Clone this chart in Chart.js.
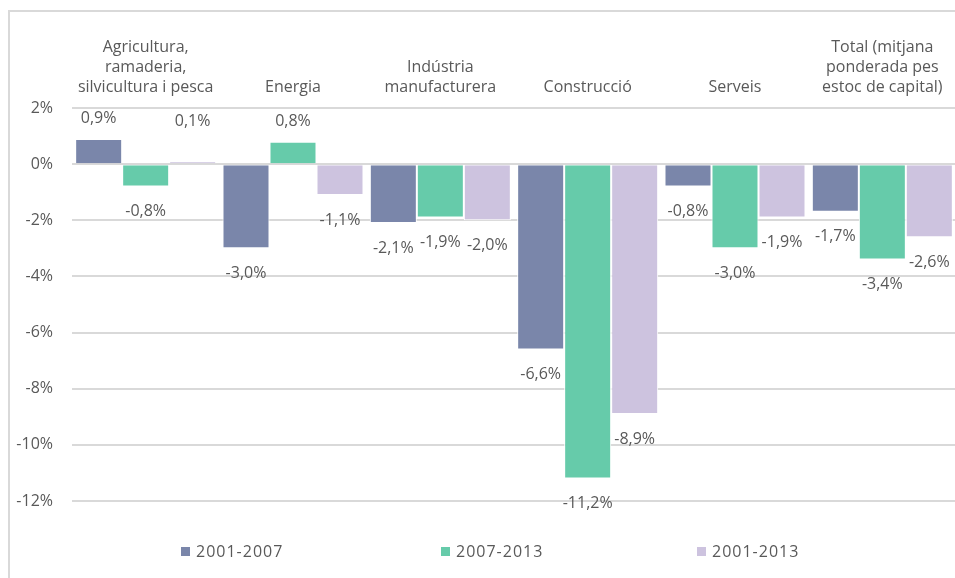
<!DOCTYPE html>
<html>
<head>
<meta charset="utf-8">
<script src="https://cdn.jsdelivr.net/npm/chart.js@4.4.1/dist/chart.umd.min.js"></script>
<style>
  html, body { margin: 0; padding: 0; background: #fff; overflow: hidden; width: 955px; height: 578px; }
  #wrap { position: relative; width: 955px; height: 578px; overflow: hidden; }
  #frame { position: absolute; left: 8px; top: 10px; width: 1000px; height: 600px;
           border-left: 2px solid #d9d9d9; border-top: 2px solid #d9d9d9; }
  #box { position: absolute; left: 0; top: 0; width: 956px; height: 578px; }
  .leg { position: absolute; top: 540px; font: 16px 'Open Sans'; letter-spacing: 1px; color: #595959; white-space: nowrap; line-height: 22px; }
  .leg i { display: inline-block; width: 9px; height: 9px; margin-right: 6px; vertical-align: 1px; }
</style>
</head>
<body>
<div id="wrap">
  <div id="frame"></div>
  <div id="box"><canvas id="chart" width="956" height="578"></canvas></div>
  <div id="legend"></div>
</div>
<script>
const categories = [
  ["Agricultura,", "ramaderia,", "silvicultura i pesca"],
  "Energia",
  ["Indústria", "manufacturera"],
  "Construcció",
  "Serveis",
  ["Total (mitjana", "ponderada pes", "estoc de capital)"]
];
const seriesNames = ["2001-2007", "2007-2013", "2001-2013"];
const values2001_2007 = [0.9, -3.0, -2.1, -6.6, -0.8, -1.7];
const values2007_2013 = [-0.8, 0.8, -1.9, -11.2, -3.0, -3.4];
const values2001_2013 = [0.1, -1.1, -2.0, -8.9, -1.9, -2.6];
const colors = ["#7a86aa", "#66cbaa", "#cdc3df"];

const textColor = "#595959";
const fontFamily = "'Open Sans', sans-serif";
const fmt = (v) => v.toFixed(1).replace(".", ",") + "%";

// data labels drawn at the end of each bar
const barLabels = {
  id: "barLabels",
  afterDatasetsDraw(chart) {
    const ctx = chart.ctx;
    const zeroY = chart.scales.y.getPixelForValue(0);
    ctx.save();
    ctx.font = "16px " + fontFamily;
    ctx.fillStyle = textColor;
    ctx.textAlign = "center";
    ctx.textBaseline = "middle";
    chart.data.datasets.forEach((ds, i) => {
      chart.getDatasetMeta(i).data.forEach((bar, j) => {
        const v = ds.data[j];
        const y = v >= 0 ? Math.min(bar.y - 20, zeroY - 43) : bar.y + 25;
        ctx.fillText(fmt(v), bar.x, y);
      });
    });
    ctx.restore();
  }
};

const datasets = [values2001_2007, values2007_2013, values2001_2013].map((d, i) => ({
  label: seriesNames[i],
  data: d,
  backgroundColor: colors[i],
  borderColor: "#ffffff",
  borderWidth: 1,
  borderSkipped: "start",
  categoryPercentage: 0.957,
  barPercentage: 1.0
}));

new Chart(document.getElementById("chart"), {
  type: "bar",
  data: { labels: categories, datasets: datasets },
  options: {
    responsive: false,
    animation: false,
    devicePixelRatio: 1,
    layout: { padding: { top: 0, bottom: 77, left: 0, right: 0 } },
    plugins: {
      legend: { display: false },
      tooltip: { enabled: false }
    },
    scales: {
      x: {
        position: "top",
        grid: { display: false, drawTicks: false },
        border: { display: false },
        ticks: {
          color: textColor,
          font: { family: fontFamily, size: 16, lineHeight: 1.25 },
          padding: 11,
          maxRotation: 0,
          autoSkip: false
        },
        afterFit: (s) => { s.height = 108; }
      },
      y: {
        min: -12,
        max: 2,
        grid: { color: "#d9d9d9", lineWidth: 2, drawTicks: false },
        border: { display: false },
        ticks: {
          stepSize: 2,
          color: textColor,
          font: { family: fontFamily, size: 16 },
          padding: 19,
          callback: (v) => v + "%"
        },
        afterFit: (s) => { s.width = 72; }
      }
    }
  },
  plugins: [barLabels]
});

// legend
const legendX = [181, 441, 697];
const legend = document.getElementById("legend");
seriesNames.forEach((name, i) => {
  const el = document.createElement("div");
  el.className = "leg";
  el.style.left = legendX[i] + "px";
  el.innerHTML = '<i style="background:' + colors[i] + '"></i>' + name;
  legend.appendChild(el);
});
</script>
</body>
</html>
